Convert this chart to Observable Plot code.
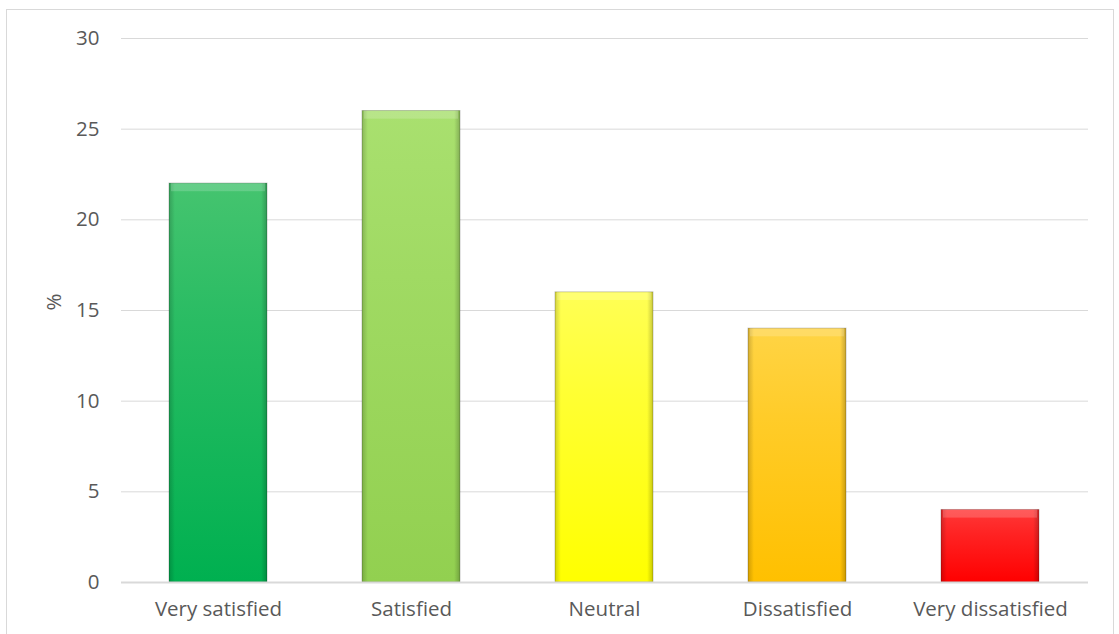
<!DOCTYPE html>
<html>
<head>
<meta charset="utf-8">
<script src="https://cdn.jsdelivr.net/npm/d3@7"></script>
<script src="https://cdn.jsdelivr.net/npm/@observablehq/plot@0.6"></script>
<style>
  html, body { margin: 0; padding: 0; background: #fff; overflow: hidden; }
  #frame { position: absolute; left: 6px; top: 9px; width: 1108px; height: 700px; border: 1.5px solid #d9d9d9; box-sizing: border-box; }
  #chart { position: absolute; left: 0; top: 0; }
</style>
</head>
<body>
<div id="frame"></div>
<div id="chart"></div>
<script>
const categories = ["Very satisfied", "Satisfied", "Neutral", "Dissatisfied", "Very dissatisfied"];
const values = [22, 26, 16, 14, 4];
const baseColors = ["#00b050", "#92d050", "#ffff00", "#ffc000", "#ff0000"];
const topColors = ["#45c46f", "#a9e06f", "#ffff55", "#ffd445", "#ff3838"];
const yTicks = [0, 5, 10, 15, 20, 25, 30];

const data = categories.map((c, i) => ({category: c, value: values[i], grad: `url(#vg${i})`}));

const font = "Open Sans, Liberation Sans, sans-serif";
const fs = 20.5;

const chart = Plot.plot({
  width: 1119,
  height: 634,
  marginLeft: 121,
  marginRight: 31,
  marginTop: 38,
  marginBottom: 52,
  style: {fontFamily: font, fontSize: `${fs}px`, color: "#595959", background: "transparent"},
  x: {domain: categories, paddingInner: 0.49, paddingOuter: 0.245, label: null},
  y: {domain: [0, 30], ticks: yTicks, label: null},
  color: {type: "identity"},
  marks: [
    Plot.gridY(yTicks.filter(t => t > 0), {stroke: "#d9d9d9", strokeOpacity: 1, strokeWidth: 1}),
    Plot.barY(data, {x: "category", y: "value", fill: "grad", stroke: "rgba(0,0,0,0.22)", strokeWidth: 1}),
    Plot.barY(data, {x: "category", y: "value", fill: () => "url(#hg)"}),
    Plot.barY(data, {x: "category", y1: d => d.value - 0.45, y2: "value", fill: "white", fillOpacity: 0.18, insetLeft: 2, insetRight: 2}),
    Plot.ruleY([0], {stroke: "#d9d9d9", strokeWidth: 2}),
    Plot.axisX({tickSize: 0, tickPadding: 19, fontSize: fs, fill: "#595959"}),
    Plot.axisY({ticks: yTicks, tickSize: 0, tickPadding: 22, fontSize: fs, fill: "#595959"}),
    Plot.text(["%"], {frameAnchor: "left", dx: -67, rotate: -90, fontSize: fs, fill: "#595959"})
  ]
});

// gradient defs
const ns = "http://www.w3.org/2000/svg";
const defs = document.createElementNS(ns, "defs");
baseColors.forEach((c, i) => {
  const g = document.createElementNS(ns, "linearGradient");
  g.setAttribute("id", `vg${i}`);
  g.setAttribute("x1", "0"); g.setAttribute("y1", "0");
  g.setAttribute("x2", "0"); g.setAttribute("y2", "1");
  const stops = [[0, topColors[i]], [0.35, d3.interpolateRgb(topColors[i], c)(0.4)], [1, c]];
  stops.forEach(([o, col]) => {
    const s = document.createElementNS(ns, "stop");
    s.setAttribute("offset", o);
    s.setAttribute("stop-color", col);
    g.appendChild(s);
  });
  defs.appendChild(g);
});
const hg = document.createElementNS(ns, "linearGradient");
hg.setAttribute("id", "hg");
hg.setAttribute("x1", "0"); hg.setAttribute("y1", "0");
hg.setAttribute("x2", "1"); hg.setAttribute("y2", "0");
[[0, "rgba(0,0,0,0.18)"], [0.06, "rgba(0,0,0,0)"], [0.94, "rgba(0,0,0,0)"], [1, "rgba(0,0,0,0.22)"]].forEach(([o, col]) => {
  const s = document.createElementNS(ns, "stop");
  s.setAttribute("offset", o);
  s.setAttribute("stop-color", col);
  hg.appendChild(s);
});
defs.appendChild(hg);
chart.insertBefore(defs, chart.firstChild);

document.getElementById("chart").appendChild(chart);
</script>
</body>
</html>
